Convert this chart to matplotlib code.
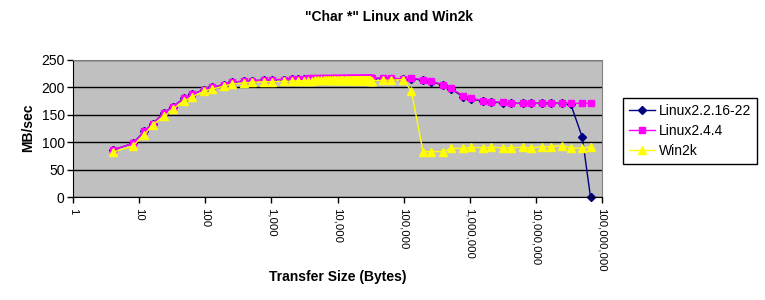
import matplotlib
matplotlib.use("Agg")
import matplotlib.pyplot as plt
from matplotlib.ticker import FixedLocator, NullLocator

plt.rcParams['font.family'] = ['Liberation Sans', 'DejaVu Sans']

# transfer sizes in bytes
sizes_low = [4, 8, 12, 16, 24, 32, 48, 64, 96, 128, 192, 256, 384, 512,
             768, 1024, 1536, 2048]
sizes_mid = [2560, 3072, 3584, 4096, 4608, 5120, 5632, 6144, 6656, 7168,
             7680, 8192, 8704, 9216, 9728, 10240, 10752, 11264, 11776, 12288,
             12800, 13312, 13824, 14336, 14848, 15360, 15872, 16384, 16896, 17408,
             17920, 18432, 18944, 19456, 19968, 20480, 20992, 21504, 22016, 22528,
             23040, 23552, 24064, 24576, 25088, 25600, 26112, 26624, 27136, 27648,
             28160, 28672, 29184, 29696, 30208, 30720, 31232, 31744, 32256, 32768]
sizes_high = [49152, 65536, 98304, 131072, 196608, 262144, 393216, 524288,
              786432, 1048576, 1572864, 2097152, 3145728, 4194304, 6291456,
              8388608, 12582912, 16777216, 25165824, 33554432, 50331648, 67108864]

# MB/sec
linux22_low = [86, 98, 120, 134, 154, 165, 180, 187, 196, 200, 205, 209, 211, 212,
               213, 214, 214, 215]
linux22_mid = [216, 216, 216, 216, 216, 216, 216, 216, 216, 216,
               216, 216, 216, 216, 216, 216, 216, 216, 216, 216,
               216, 216, 216, 216, 216, 216, 216, 216, 216, 216,
               216, 216, 216, 216, 216, 216, 216, 216, 216, 216,
               216, 216, 216, 216, 216, 216, 216, 216, 216, 216,
               216, 216, 216, 216, 216, 216, 216, 216, 216, 216]
linux22_high = [216, 216, 215, 216, 213, 210, 204, 197, 183, 179, 175, 173, 172,
                171, 171, 171, 171, 171, 171, 170, 109, 0]

linux244_low = [86, 98, 120, 134, 154, 165, 180, 187, 196, 200, 205, 210, 211, 212,
                213, 214, 214, 215]
linux244_mid = [216, 216, 217, 217, 217, 217, 217, 217, 217, 217,
                217, 217, 217, 217, 217, 217, 217, 217, 217, 217,
                217, 217, 217, 217, 217, 217, 217, 217, 217, 217,
                217, 217, 217, 217, 217, 217, 217, 217, 217, 217,
                217, 217, 217, 217, 217, 217, 217, 217, 217, 217,
                217, 217, 217, 217, 217, 217, 217, 217, 217, 217]
linux244_high = [217, 217, 215, 217, 214, 211, 205, 198, 185, 180, 176, 174, 173,
                 171, 171, 171, 171, 171, 171, 171, 171, 171]

win2k_low = [82, 93, 114, 132, 147, 160, 175, 183, 193, 197, 202, 206, 208, 209,
             210, 210, 211, 211]
win2k_mid = [212, 212, 212, 212, 213, 213, 213, 213, 213, 213,
             213, 213, 213, 213, 213, 213, 213, 213, 213, 213,
             213, 213, 213, 213, 213, 213, 213, 213, 213, 213,
             213, 213, 213, 213, 213, 213, 213, 213, 213, 213,
             213, 213, 213, 213, 213, 213, 213, 213, 213, 213,
             213, 213, 213, 213, 213, 213, 213, 212, 212, 212]
win2k_high = [213, 213, 214, 193, 83, 83, 83, 89, 89, 91, 90, 91, 90, 90, 91,
              90, 92, 92, 94, 90, 89, 92]

xtick_vals = [1, 10, 100, 1000, 10000, 100000, 1000000, 10000000, 100000000]
xtick_labels = ['1', '10', '100', '1,000', '10,000', '100,000', '1,000,000',
                '10,000,000', '100,000,000']
ytick_vals = [0, 50, 100, 150, 200, 250]

sizes = sizes_low + sizes_mid + sizes_high
linux22 = linux22_low + linux22_mid + linux22_high
linux244 = linux244_low + linux244_mid + linux244_high
win2k = win2k_low + win2k_mid + win2k_high

W, H = 765, 300
fig = plt.figure(figsize=(W / 100, H / 100), dpi=100)
left, right, top, bottom = 73, 602, 59.8, 197.3
ax = fig.add_axes([left / W, 1 - bottom / H, (right - left) / W, (bottom - top) / H])
ax.set_facecolor('#C0C0C0')
ax.set_axisbelow(True)

l1, = ax.plot(sizes, linux22, color='#000080', lw=1, marker='D', ms=4,
              mfc='#000080', mec='#000080', label='Linux2.2.16-22', clip_on=False)
l2, = ax.plot(sizes, linux244, color='#FF00FF', lw=1, marker='s', ms=5,
              mfc='#FF00FF', mec='#FF00FF', label='Linux2.4.4', clip_on=False)
l3, = ax.plot(sizes, win2k, color='#FFFF00', lw=1, marker='^', ms=6,
              mfc='#FFFF00', mec='#FFFF00', label='Win2k', clip_on=False)

ax.set_xscale('log')
ax.set_xlim(1, 1e8)
ax.set_ylim(0, 250)
ax.xaxis.set_major_locator(FixedLocator(xtick_vals))
ax.xaxis.set_minor_locator(NullLocator())
ax.set_xticklabels(xtick_labels, rotation=-90, fontsize=8.2)
ax.set_yticks(ytick_vals)
ax.set_yticklabels([str(v) for v in ytick_vals], fontsize=10)
ax.tick_params(direction='out', length=4, width=1, color='black', pad=2)
ax.tick_params(axis='x', pad=4)
ax.grid(axis='y', color='black', lw=1)

for s in ['top', 'right']:
    ax.spines[s].set_color('#808080')
for s in ['left', 'bottom']:
    ax.spines[s].set_color('black')

fig.text(389 / W, 1 - 17 / H, '"Char *" Linux and Win2k', ha='center', va='center',
         fontsize=10, fontweight='bold')
fig.text((left + right) / 2 / W, 1 - 277 / H, 'Transfer Size (Bytes)', ha='center',
         va='center', fontsize=10, fontweight='bold')
fig.text(28 / W, 1 - 128 / H, 'MB/sec', ha='center', va='center', rotation=90,
         fontsize=10, fontweight='bold')

leg = fig.legend(handles=[l1, l2, l3], loc='upper left',
                 bbox_to_anchor=(623 / W, 1 - 98 / H), fontsize=10,
                 frameon=True, fancybox=False, framealpha=1, edgecolor='black',
                 handlelength=1.9, handletextpad=0.3, borderpad=0.4,
                 labelspacing=0.45, borderaxespad=0)
leg.get_frame().set_linewidth(1)

fig.savefig('out.png', dpi=100)
